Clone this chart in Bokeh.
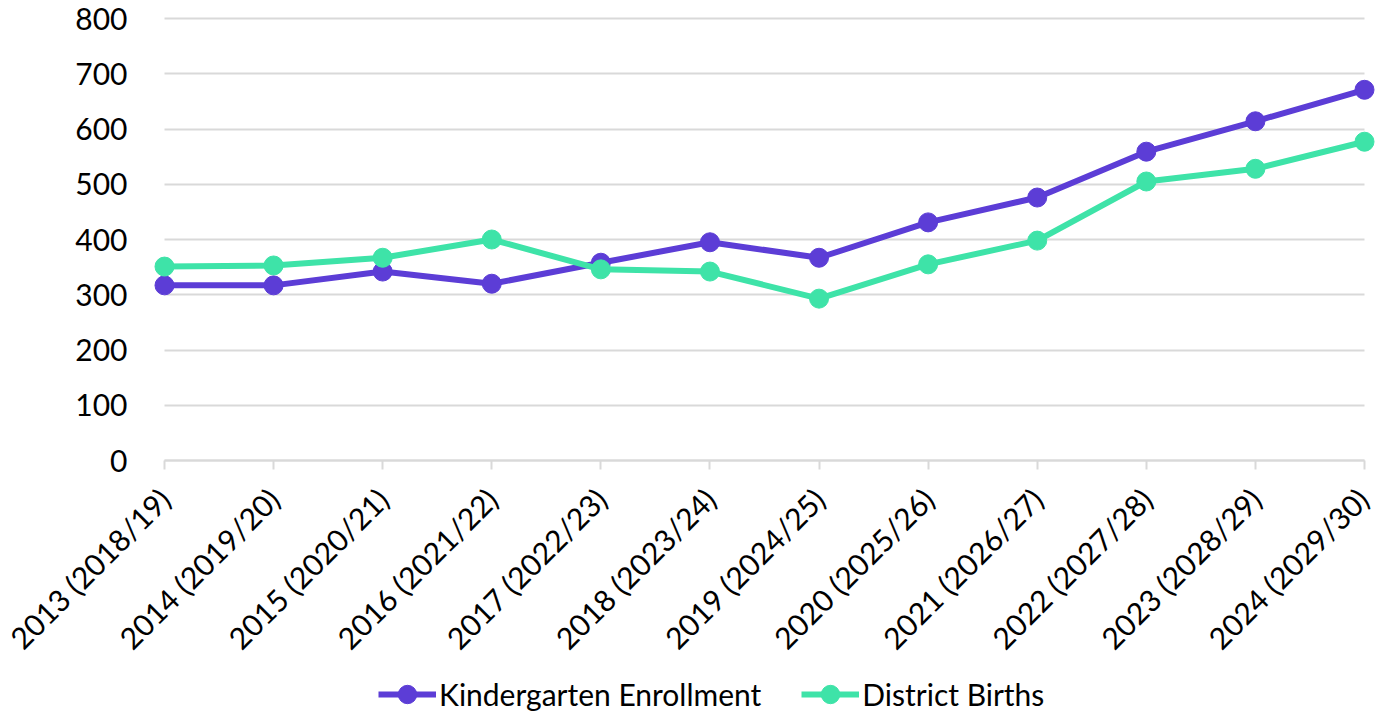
import math
from bokeh.plotting import figure
from bokeh.models import Range1d, FixedTicker, Legend, LegendItem
from bokeh.embed import file_html
from bokeh.resources import INLINE

categories = ["2013 (2018/19)", "2014 (2019/20)", "2015 (2020/21)", "2016 (2021/22)",
              "2017 (2022/23)", "2018 (2023/24)", "2019 (2024/25)", "2020 (2025/26)",
              "2021 (2026/27)", "2022 (2027/28)", "2023 (2028/29)", "2024 (2029/30)"]
kindergarten = [317, 317, 342, 320, 358, 395, 367, 431, 476, 559, 614, 671]
births = [351, 353, 367, 400, 346, 342, 293, 355, 398, 505, 528, 577]
y_ticks = [0, 100, 200, 300, 400, 500, 600, 700, 800]

PURPLE = "#5c3dd6"
GREEN = "#3ee3a8"
FONT = "Lato"
FS = "30px"

x = list(range(len(categories)))

# the frame covers the whole canvas; both axes are pinned inside it
p = figure(width=1375, height=712, output_backend="svg", toolbar_location=None,
           x_range=Range1d(-1.5033, 11.1008), y_range=Range1d(-456.1, 832.6),
           min_border_left=0, min_border_right=0, min_border_top=0, min_border_bottom=0)
p.outline_line_color = None
p.background_fill_color = "white"

# y axis
p.yaxis.fixed_location = -0.1283
p.yaxis.ticker = FixedTicker(ticks=y_ticks)
p.yaxis.axis_line_color = None
p.yaxis.major_tick_line_color = None
p.yaxis.minor_tick_line_color = None
p.yaxis.major_label_standoff = 17
p.yaxis.major_label_text_font = FONT
p.yaxis.major_label_text_font_size = FS
p.yaxis.major_label_text_color = "black"

# x axis
p.xaxis.fixed_location = 0
p.xaxis.ticker = FixedTicker(ticks=x)
p.xaxis.major_label_overrides = {i: c for i, c in enumerate(categories)}
p.xaxis.bounds = (0, len(categories) - 1)
p.xaxis.axis_line_color = "#d9d9d9"
p.xaxis.axis_line_width = 2
p.xaxis.major_tick_line_color = "#d9d9d9"
p.xaxis.major_tick_line_width = 2
p.xaxis.major_tick_out = 9
p.xaxis.major_tick_in = 0
p.xaxis.minor_tick_line_color = None
p.xaxis.major_label_orientation = math.pi / 4
p.xaxis.major_label_standoff = 24
p.xaxis.major_label_text_font = FONT
p.xaxis.major_label_text_font_size = FS
p.xaxis.major_label_text_color = "black"

p.xgrid.visible = False
p.ygrid.ticker = FixedTicker(ticks=y_ticks)
p.ygrid.cross_bounds = (0, len(categories) - 1)
p.ygrid.grid_line_color = "#d9d9d9"
p.ygrid.grid_line_width = 2

# series
l1 = p.line(x, kindergarten, line_color=PURPLE, line_width=6)
c1 = p.scatter(x, kindergarten, size=19, fill_color=PURPLE, line_color=PURPLE)
l2 = p.line(x, births, line_color=GREEN, line_width=6)
c2 = p.scatter(x, births, size=19, fill_color=GREEN, line_color=GREEN)

legend = Legend(items=[LegendItem(label="Kindergarten Enrollment", renderers=[l1, c1]),
                       LegendItem(label="District Births", renderers=[l2, c2])],
                orientation="horizontal", location=(378, -5))
legend.label_text_font = FONT
legend.label_text_font_size = FS
legend.label_text_color = "black"
legend.border_line_color = None
legend.background_fill_alpha = 0
legend.glyph_width = 58
legend.glyph_height = 46
legend.label_standoff = 3
legend.spacing = 40
legend.padding = 2
legend.margin = 0
p.add_layout(legend, "center")

open("out.html", "w").write(file_html(p, INLINE))
